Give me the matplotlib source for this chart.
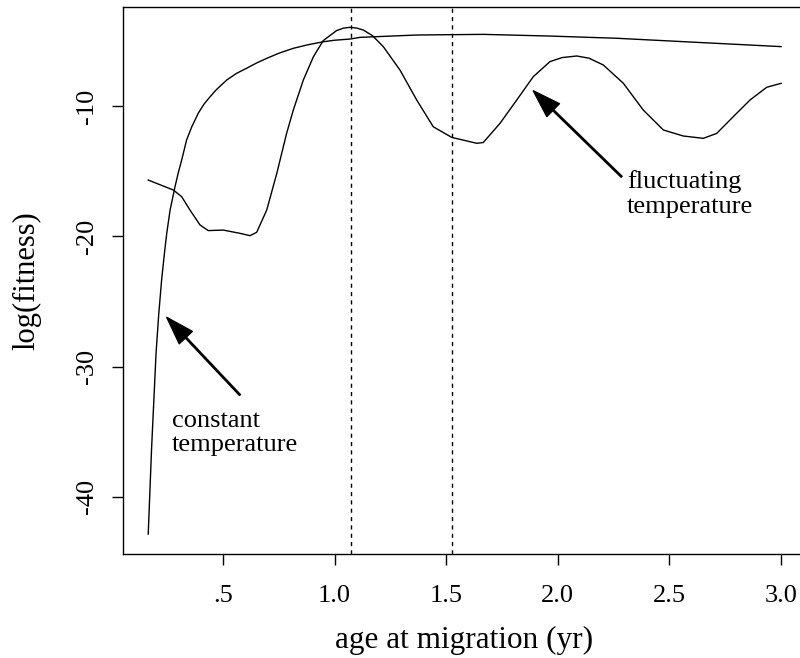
import matplotlib
matplotlib.use("Agg")
import matplotlib.pyplot as plt

# log fitness vs age at migration, two temperature regimes
const_age = [0.165, 0.180, 0.200, 0.212, 0.225, 0.237, 0.248, 0.263, 0.285,
             0.300, 0.315, 0.337, 0.360, 0.389, 0.415, 0.442, 0.470, 0.517,
             0.560, 0.606, 0.650, 0.696, 0.750, 0.815, 0.880, 0.949, 1.000,
             1.069, 1.114, 1.368, 1.666, 1.965, 2.264, 2.562, 3.000]
const_fit = [-42.85, -36.3, -29.0, -26.0, -23.35, -21.4, -19.77, -17.98, -16.19,
             -15.1, -14.14, -12.6, -11.6, -10.56, -9.85, -9.29, -8.75, -8.00,
             -7.50, -7.10, -6.70, -6.34, -5.95, -5.57, -5.30, -5.07, -4.95,
             -4.86, -4.73, -4.55, -4.50, -4.63, -4.80, -5.06, -5.44]

fluct_age = [0.165, 0.278, 0.315, 0.352, 0.397, 0.434, 0.501, 0.576, 0.621,
             0.651, 0.696, 0.741, 0.785, 0.815, 0.860, 0.905, 0.949, 1.009,
             1.040, 1.069, 1.100, 1.129, 1.170, 1.218, 1.293, 1.368, 1.442,
             1.525, 1.637, 1.666, 1.741, 1.816, 1.890, 1.965, 2.020, 2.085,
             2.140, 2.204, 2.294, 2.383, 2.473, 2.562, 2.652, 2.712, 2.786,
             2.861, 2.936, 3.000]
fluct_fit = [-15.68, -16.45, -16.96, -17.98, -19.13, -19.56, -19.52, -19.77, -19.95,
             -19.69, -17.98, -15.17, -12.10, -10.31, -8.00, -6.22, -4.98, -4.21,
             -4.02, -3.96, -4.02, -4.17, -4.60, -5.44, -7.24, -9.54, -11.59,
             -12.41, -12.86, -12.80, -11.33, -9.54, -7.75, -6.59, -6.28, -6.16,
             -6.33, -6.85, -8.26, -10.31, -11.84, -12.30, -12.48, -12.10, -10.82,
             -9.54, -8.56, -8.26]

# optimal ages marked with dotted lines
opt_ages = [1.072, 1.525]

xticks = [0.5, 1.0, 1.5, 2.0, 2.5, 3.0]
xtick_labels = [".5", "1.0", "1.5", "2.0", "2.5", "3.0"]
yticks = [-40, -30, -20, -10]
ytick_labels = ["-40", "-30", "-20", "-10"]

plt.rcParams["font.family"] = "Liberation Serif"
plt.rcParams["axes.unicode_minus"] = False

fig = plt.figure(figsize=(8, 6.58), dpi=100)
ax = fig.add_axes([123 / 800, 104 / 658, 683 / 800, 547 / 658])

ax.plot(const_age, const_fit, color="black", lw=1.0)
ax.plot(fluct_age, fluct_fit, color="black", lw=1.0)
for a in opt_ages:
    ax.axvline(a, color="black", lw=1.0, linestyle=(0, (3, 3)))

ax.set_xlim(0.052, 3.112)
ax.set_ylim(-44.38, -2.40)

ax.set_xticks(xticks)
ax.set_xticklabels(xtick_labels)
ax.set_yticks(yticks)
ax.set_yticklabels(ytick_labels, rotation=90, va="center")
ax.tick_params(axis="both", direction="out", length=8, width=1, labelsize=19)
ax.tick_params(axis="x", pad=14)
ax.tick_params(axis="y", pad=10)
for s in ax.spines.values():
    s.set_linewidth(1.0)

ax.set_xlabel("age at migration (yr)", fontsize=22.5, labelpad=14)
ax.set_ylabel("log(fitness)", fontsize=22, labelpad=25)

arrow = dict(facecolor="black", edgecolor="black", width=1.0,
             headwidth=13, headlength=20, shrink=0)
ax.annotate("", xy=(0.248, -26.22), xytext=(0.576, -32.18), arrowprops=arrow)
ax.text(0.27, -35.1, "constant\ntemperature", fontsize=19, ha="left",
        va="center", linespacing=1.15)

ax.annotate("", xy=(1.890, -8.83), xytext=(2.286, -15.43), arrowprops=arrow)
ax.text(2.309, -16.77, "fluctuating\ntemperature", fontsize=19, ha="left",
        va="center", linespacing=1.15)

fig.savefig("out.png", dpi=100)
